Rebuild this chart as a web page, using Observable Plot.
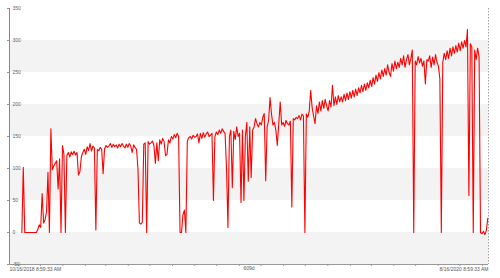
<!DOCTYPE html>
<html><head><meta charset="utf-8">
<script src="https://cdn.jsdelivr.net/npm/d3@7"></script>
<script src="https://cdn.jsdelivr.net/npm/@observablehq/plot@0.6"></script>
<style>body{margin:0;background:#fff}#chart svg{display:block}</style>
</head><body><div id="chart"></div>
<script>
// Series sampled every 2 days, starting 20 days after 10/16/2018
const startDate = new Date(Date.UTC(2018, 9, 16, 8, 59, 33));
const firstDay = 20;
const stepDays = 2;
const values = [
  0, 102, 0, 0, 0, 0, 0, 0, 0, 0,
  0, 5, 12, 8, 61, 15, 20, 32, 94, 0,
  162, 98, 104, 108, 112, 68, 115, 0, 136, 122,
  0, 120, 125, 118, 126, 122, 127, 121, 125, 90,
  95, 118, 125, 130, 122, 134, 128, 139, 127, 135,
  132, 4, 130, 128, 133, 130, 92, 131, 136, 133,
  135, 139, 133, 138, 134, 137, 132, 138, 134, 139,
  135, 132, 138, 133, 139, 135, 125, 137, 133, 130,
  100, 15, 13, 16, 138, 140, 0, 142, 138, 140,
  143, 136, 108, 140, 112, 145, 138, 147, 142, 120,
  122, 145, 140, 150, 146, 153, 148, 155, 150, 0,
  0, 28, 35, 0, 143, 148, 150, 146, 152, 149,
  150, 154, 140, 155, 147, 156, 149, 154, 157, 150,
  152, 155, 50, 150, 157, 153, 160, 155, 162, 158,
  155, 101, 8, 150, 160, 70, 158, 145, 165, 150,
  155, 47, 160, 50, 150, 172, 80, 165, 86, 160,
  165, 178, 170, 165, 172, 168, 180, 186, 81, 165,
  175, 211, 185, 168, 172, 160, 136, 170, 204, 168,
  172, 166, 175, 170, 168, 174, 40, 178, 176, 180,
  178, 183, 176, 185, 182, 0, 185, 180, 190, 222,
  195, 182, 170, 198, 186, 204, 190, 206, 194, 208,
  198, 190, 206, 196, 230, 198, 212, 200, 214, 204,
  212, 204, 216, 206, 218, 208, 220, 210, 222, 212,
  224, 214, 226, 218, 230, 220, 232, 222, 234, 226,
  238, 228, 242, 232, 246, 236, 250, 240, 254, 244,
  256, 246, 262, 250, 244, 264, 252, 268, 256, 266,
  258, 272, 262, 276, 258, 270, 278, 262, 272, 285,
  0, 268, 262, 275, 265, 272, 260, 268, 232, 270,
  268, 276, 258, 274, 262, 278, 266, 260, 240, 0,
  266, 280, 270, 284, 272, 288, 276, 290, 280, 292,
  282, 296, 284, 298, 288, 300, 290, 317, 58, 295,
  290, 0, 285, 270, 288, 275, 0, -2, 2, -3,
  3, 22
];
const yTicks = [-50, 0, 50, 100, 150, 200, 250, 300, 350];
const bandRanges = [[-50, 0], [50, 100], [150, 200], [250, 300]];
const startLabel = "10/16/2018 8:59:33 AM";
const spanLabel = "609d";
const endLabel = "8/16/2020 8:59:33 AM";
const domainDays = [3, 663];

const xStart = d3.utcDay.offset(startDate, domainDays[0]);
const xEnd = d3.utcDay.offset(startDate, domainDays[1]);
const data = values.map((v, i) => ({date: d3.utcDay.offset(startDate, firstDay + stepDays * i), value: v}));
const monthTicks = d3.utcMonth.range(xStart, xEnd);

const chart = Plot.plot({
  width: 500,
  height: 278,
  marginLeft: 9,
  marginRight: 12,
  marginTop: 8,
  marginBottom: 14,
  style: {fontFamily: "'Liberation Sans', Arial, sans-serif", fontSize: "5px", background: "#fff"},
  x: {type: "utc", domain: [xStart, xEnd], axis: null},
  y: {domain: [-50, 350], axis: null, label: null},
  marks: [
    Plot.rect(bandRanges, {x1: () => xStart, x2: () => xEnd, y1: d => d[0], y2: d => d[1], fill: "#f3f3f3"}),
    Plot.ruleX([xEnd], {stroke: "#a0a0a0", strokeDasharray: "1.5,1.5"}),
    Plot.axisX(monthTicks, {tickSize: 2, tickFormat: () => "", stroke: "#999", label: null}),
    Plot.axisY(yTicks, {tickSize: 2, tickFormat: () => "", stroke: "#999", label: null}),
    Plot.ruleY([-50], {stroke: "#999"}),
    Plot.ruleX([xStart], {stroke: "#888"}),
    Plot.text(yTicks, {x: () => xStart, y: d => d, text: d => String(d), textAnchor: "start", dx: 3, fill: "#666"}),
    Plot.line(data, {x: "date", y: "value", stroke: "#ff0000", strokeWidth: 1.1}),
    Plot.text([startLabel], {x: () => xStart, y: () => -50, text: d => d, textAnchor: "start", dy: 5, fill: "#555"}),
    Plot.text([spanLabel], {frameAnchor: "bottom", text: d => d, dy: 5, fill: "#555"}),
    Plot.text([endLabel], {x: () => xEnd, y: () => -50, text: d => d, textAnchor: "end", dy: 5, fill: "#555"})
  ]
});
document.getElementById("chart").appendChild(chart);
</script>
</body></html>
